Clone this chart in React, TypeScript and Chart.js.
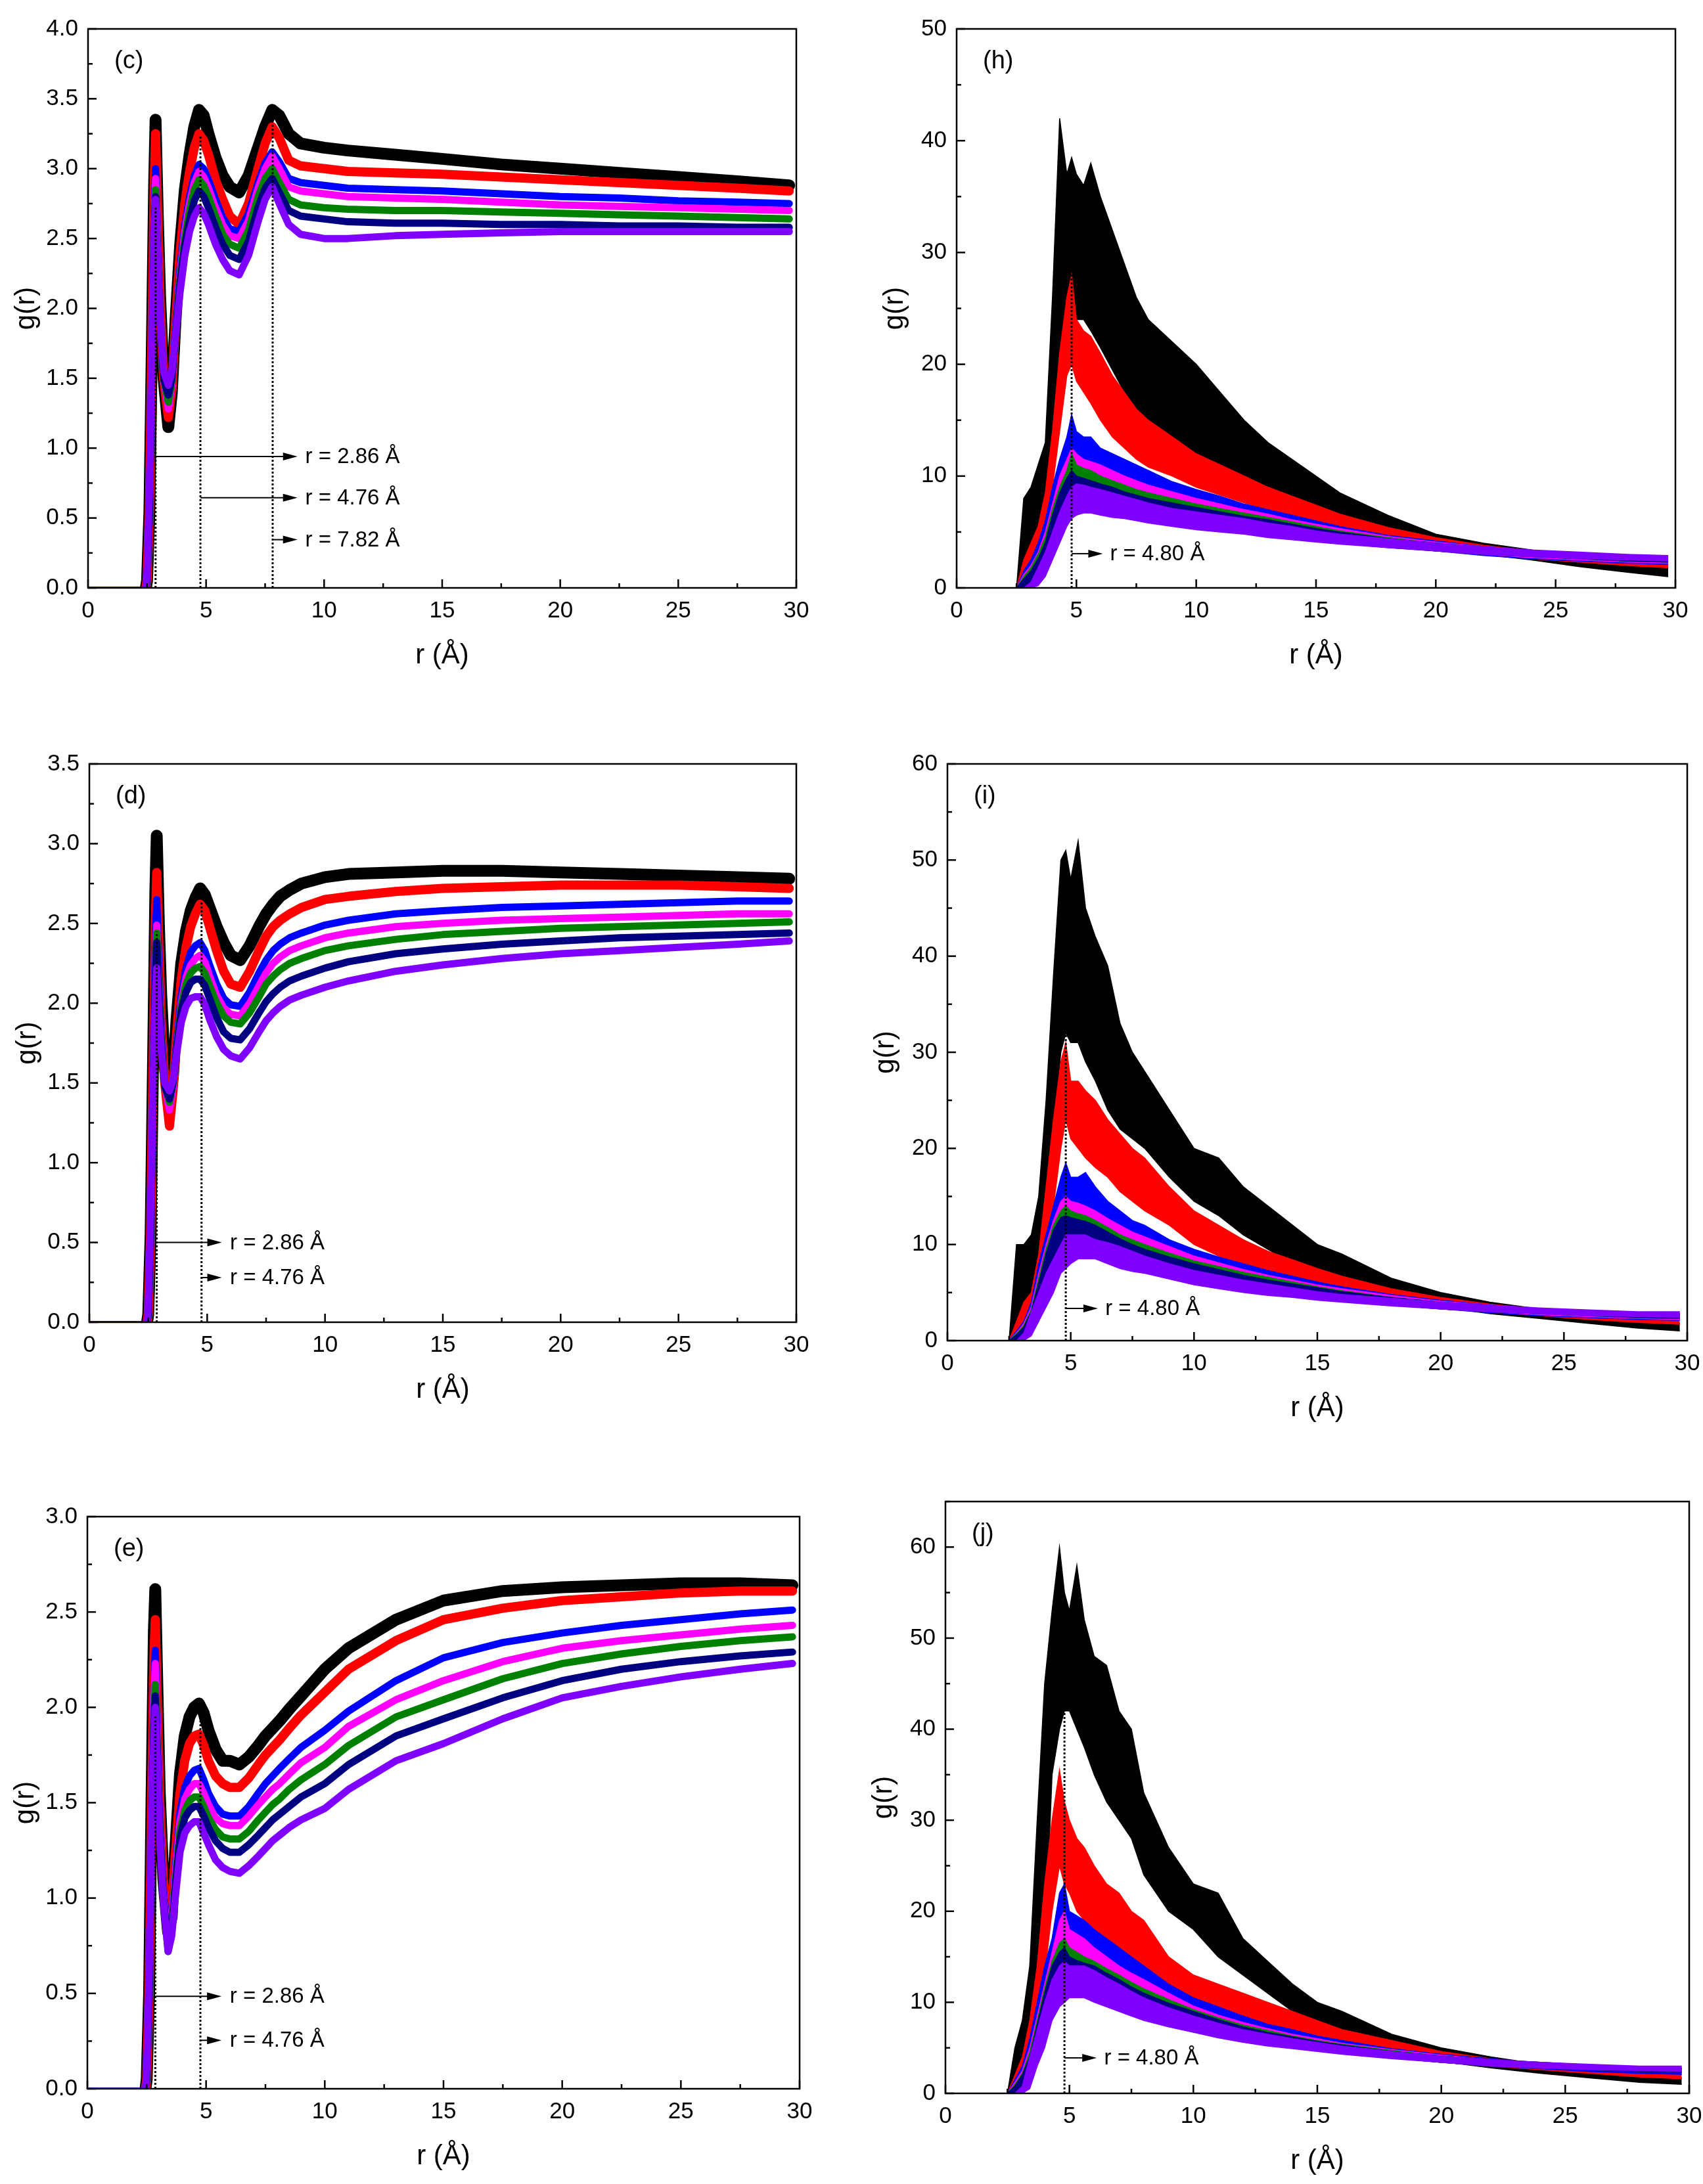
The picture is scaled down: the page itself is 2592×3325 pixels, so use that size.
import { useEffect, useRef } from "react"
import { Chart, registerables } from "chart.js"

Chart.register(...registerables)

const FONT = "Arial, 'Liberation Sans', Helvetica, sans-serif"

// series order in every panel: black, red, blue, magenta, green, navy, violet
const COLORS = ["#000000", "#ff0000", "#0000ff", "#ff00ff", "#008000", "#000080", "#8000ff"]
const LINE_W = [18, 14, 11, 11, 11, 11, 11]

// ---- left column (c), (d), (e): r grid in Å ----
const rLeft = [0, 2.45, 2.5, 2.6, 2.7, 2.8, 2.86, 2.95, 3.05, 3.2, 3.4, 3.55, 3.7, 3.9, 4.1, 4.3, 4.5, 4.7, 4.9, 5.1, 5.4, 5.7, 6.0, 6.4, 6.8, 7.2, 7.5, 7.8, 8.1, 8.5, 9.0, 10, 11, 13, 15, 17.5, 20, 22.5, 25, 27.5, 29.7]

// panel (c)
const cBlack = [0, 0, 0.05, 0.55, 1.7, 2.9, 3.35, 2.7, 2.1, 1.5, 1.15, 1.4, 1.9, 2.45, 2.85, 3.1, 3.3, 3.42, 3.38, 3.25, 3.08, 2.95, 2.87, 2.83, 2.95, 3.15, 3.3, 3.42, 3.38, 3.25, 3.18, 3.15, 3.13, 3.1, 3.07, 3.03, 3.0, 2.97, 2.94, 2.91, 2.88]
const cRed = [0, 0, 0.05, 0.55, 1.7, 2.85, 3.25, 2.65, 2.05, 1.5, 1.22, 1.42, 1.88, 2.4, 2.75, 2.98, 3.15, 3.25, 3.2, 3.1, 2.92, 2.78, 2.66, 2.6, 2.75, 3.0, 3.18, 3.3, 3.22, 3.06, 3.02, 3.0, 2.98, 2.97, 2.96, 2.94, 2.92, 2.9, 2.88, 2.86, 2.84]
const cBlue = [0, 0, 0.05, 0.55, 1.65, 2.7, 3.0, 2.5, 2.0, 1.5, 1.28, 1.45, 1.85, 2.3, 2.6, 2.8, 2.95, 3.03, 3.0, 2.92, 2.78, 2.65, 2.57, 2.55, 2.68, 2.9, 3.04, 3.12, 3.05, 2.93, 2.9, 2.88, 2.86, 2.85, 2.84, 2.82, 2.8, 2.79, 2.77, 2.76, 2.75]
const cMag = [0, 0, 0.05, 0.55, 1.6, 2.6, 2.93, 2.45, 1.98, 1.5, 1.28, 1.45, 1.83, 2.25, 2.55, 2.75, 2.9, 2.98, 2.94, 2.86, 2.72, 2.6, 2.52, 2.5, 2.63, 2.86, 3.0, 3.09, 3.0, 2.87, 2.84, 2.82, 2.8, 2.79, 2.78, 2.76, 2.74, 2.73, 2.72, 2.71, 2.7]
const cGrn = [0, 0, 0.05, 0.55, 1.6, 2.55, 2.85, 2.4, 1.95, 1.5, 1.33, 1.48, 1.82, 2.22, 2.5, 2.7, 2.85, 2.92, 2.88, 2.8, 2.66, 2.53, 2.46, 2.43, 2.56, 2.8, 2.93, 3.0, 2.9, 2.78, 2.74, 2.72, 2.71, 2.7, 2.7, 2.69, 2.68, 2.67, 2.66, 2.65, 2.64]
const cNav = [0, 0, 0.05, 0.55, 1.55, 2.5, 2.8, 2.35, 1.92, 1.5, 1.38, 1.5, 1.8, 2.18, 2.45, 2.63, 2.77, 2.84, 2.8, 2.72, 2.58, 2.46, 2.38, 2.35, 2.48, 2.72, 2.86, 2.93, 2.83, 2.7, 2.66, 2.64, 2.62, 2.61, 2.61, 2.6, 2.6, 2.59, 2.59, 2.58, 2.58]
const cPur = [0, 0, 0.1, 0.7, 1.6, 2.5, 2.78, 2.35, 1.92, 1.55, 1.45, 1.55, 1.8, 2.12, 2.38, 2.55, 2.66, 2.72, 2.68, 2.6, 2.46, 2.35, 2.27, 2.24, 2.38, 2.62, 2.78, 2.87, 2.75, 2.6, 2.53, 2.5, 2.5, 2.52, 2.53, 2.54, 2.55, 2.55, 2.55, 2.55, 2.55]

// panel (d)
const dBlack = [0, 0, 0.05, 0.55, 1.6, 2.7, 3.05, 2.5, 2.05, 1.6, 1.35, 1.55, 1.9, 2.25, 2.45, 2.58, 2.66, 2.72, 2.68, 2.6, 2.48, 2.38, 2.3, 2.27, 2.36, 2.48, 2.56, 2.62, 2.67, 2.71, 2.75, 2.79, 2.81, 2.82, 2.83, 2.83, 2.82, 2.81, 2.8, 2.79, 2.78]
const dRed = [0, 0, 0.05, 0.55, 1.55, 2.5, 2.82, 2.35, 1.9, 1.5, 1.23, 1.45, 1.8, 2.15, 2.35, 2.48, 2.56, 2.62, 2.58, 2.48, 2.33, 2.2, 2.12, 2.1, 2.2, 2.33, 2.42, 2.48, 2.52, 2.56, 2.6, 2.65, 2.67, 2.7, 2.72, 2.73, 2.74, 2.74, 2.74, 2.73, 2.72]
const dBlue = [0, 0, 0.05, 0.55, 1.5, 2.4, 2.65, 2.25, 1.85, 1.48, 1.33, 1.48, 1.75, 2.05, 2.22, 2.32, 2.36, 2.38, 2.33, 2.24, 2.12, 2.03, 1.99, 1.98, 2.07, 2.19, 2.27, 2.33, 2.37, 2.41, 2.44, 2.49, 2.52, 2.56, 2.58, 2.6, 2.61, 2.62, 2.63, 2.64, 2.64]
const dMag = [0, 0, 0.05, 0.55, 1.45, 2.25, 2.49, 2.15, 1.8, 1.48, 1.33, 1.47, 1.72, 2.0, 2.16, 2.24, 2.28, 2.3, 2.26, 2.17, 2.05, 1.97, 1.93, 1.92, 2.0, 2.11, 2.19, 2.25, 2.29, 2.33, 2.36, 2.41, 2.44, 2.48, 2.5, 2.52, 2.53, 2.54, 2.55, 2.56, 2.56]
const dGrn = [0, 0, 0.05, 0.55, 1.45, 2.2, 2.44, 2.1, 1.78, 1.48, 1.38, 1.5, 1.72, 1.98, 2.12, 2.19, 2.22, 2.23, 2.19, 2.11, 2.0, 1.92, 1.88, 1.87, 1.94, 2.04, 2.12, 2.17, 2.21, 2.25, 2.28, 2.33, 2.36, 2.4, 2.43, 2.45, 2.47, 2.48, 2.49, 2.5, 2.51]
const dNav = [0, 0, 0.05, 0.55, 1.4, 2.15, 2.38, 2.05, 1.75, 1.48, 1.4, 1.5, 1.7, 1.95, 2.07, 2.13, 2.15, 2.15, 2.11, 2.03, 1.91, 1.82, 1.78, 1.77, 1.84, 1.94, 2.01, 2.06, 2.1, 2.14, 2.17, 2.22, 2.26, 2.31, 2.34, 2.37, 2.39, 2.41, 2.42, 2.43, 2.44]
const dPur = [0, 0, 0.1, 0.7, 1.45, 2.05, 2.22, 1.95, 1.7, 1.5, 1.45, 1.52, 1.68, 1.88, 1.98, 2.03, 2.04, 2.04, 1.99, 1.9, 1.79, 1.71, 1.67, 1.65, 1.72, 1.82, 1.89, 1.94, 1.98, 2.02, 2.05, 2.1, 2.14, 2.2, 2.24, 2.28, 2.31, 2.33, 2.35, 2.37, 2.39]

// panel (e)
const eBlack = [0, 0, 0.05, 0.5, 1.5, 2.4, 2.62, 2.1, 1.55, 1.1, 0.82, 0.9, 1.25, 1.65, 1.85, 1.95, 2.0, 2.02, 1.97, 1.88, 1.78, 1.72, 1.72, 1.7, 1.74, 1.8, 1.85, 1.89, 1.93, 1.99, 2.06, 2.2, 2.31, 2.46, 2.56, 2.61, 2.63, 2.64, 2.65, 2.65, 2.64]
const eRed = [0, 0, 0.05, 0.5, 1.45, 2.25, 2.46, 2.0, 1.5, 1.1, 0.85, 0.92, 1.22, 1.55, 1.72, 1.81, 1.85, 1.86, 1.8, 1.72, 1.64, 1.6, 1.58, 1.58, 1.63, 1.7, 1.75, 1.79, 1.83, 1.89, 1.96, 2.08, 2.2, 2.35, 2.46, 2.52, 2.56, 2.58, 2.6, 2.61, 2.61]
const eBlue = [0, 0, 0.05, 0.5, 1.4, 2.1, 2.3, 1.9, 1.45, 1.05, 0.8, 0.88, 1.15, 1.45, 1.58, 1.64, 1.67, 1.68, 1.62, 1.55, 1.48, 1.44, 1.43, 1.43, 1.48, 1.55, 1.6, 1.64, 1.68, 1.73, 1.79, 1.88, 1.98, 2.14, 2.26, 2.34, 2.39, 2.43, 2.46, 2.49, 2.51]
const eMag = [0, 0, 0.05, 0.5, 1.35, 2.05, 2.23, 1.85, 1.42, 1.03, 0.78, 0.86, 1.12, 1.4, 1.52, 1.57, 1.6, 1.6, 1.55, 1.49, 1.42, 1.39, 1.38, 1.38, 1.43, 1.49, 1.53, 1.57, 1.6, 1.65, 1.71, 1.79, 1.9, 2.04, 2.14, 2.24, 2.31, 2.35, 2.38, 2.41, 2.43]
const eGrn = [0, 0, 0.05, 0.5, 1.3, 1.95, 2.12, 1.78, 1.38, 1.0, 0.72, 0.82, 1.08, 1.35, 1.46, 1.51, 1.53, 1.53, 1.48, 1.42, 1.36, 1.32, 1.31, 1.31, 1.35, 1.41, 1.45, 1.49, 1.52, 1.57, 1.62, 1.7, 1.8, 1.95, 2.04, 2.15, 2.23, 2.28, 2.32, 2.35, 2.37]
const eNav = [0, 0, 0.05, 0.5, 1.28, 1.9, 2.06, 1.75, 1.35, 1.0, 0.75, 0.82, 1.05, 1.31, 1.42, 1.46, 1.48, 1.48, 1.43, 1.37, 1.3, 1.26, 1.24, 1.24, 1.28, 1.33, 1.37, 1.41, 1.44, 1.48, 1.53, 1.6, 1.7, 1.85, 1.94, 2.05, 2.14, 2.2, 2.24, 2.27, 2.29]
const ePur = [0, 0, 0.1, 0.6, 1.3, 1.85, 2.0, 1.7, 1.3, 0.98, 0.72, 0.8, 1.0, 1.24, 1.34, 1.38, 1.4, 1.4, 1.34, 1.28, 1.2, 1.16, 1.14, 1.13, 1.17, 1.22, 1.26, 1.3, 1.33, 1.37, 1.41, 1.47, 1.57, 1.72, 1.81, 1.94, 2.05, 2.11, 2.16, 2.2, 2.23]

// ---- right column (h), (i), (j): noisy curves as low / high envelopes ----
const rRight = [0, 2.5, 2.8, 3.1, 3.4, 3.7, 4.0, 4.3, 4.6, 4.8, 5.0, 5.3, 5.6, 6.0, 6.5, 7.0, 7.5, 8.0, 9, 10, 11, 12, 13, 14, 15, 16, 18, 20, 22, 24, 26, 28, 29.7]

// panel (h)
const hBlackLo = [0, 0, 0.5, 1.5, 3, 5, 9, 18, 22, 24, 24, 24, 23, 21.5, 19.5, 17.5, 16, 15, 13.5, 12, 10.5, 9.5, 8.5, 7.5, 6.5, 5.8, 4.6, 3.5, 3.0, 2.5, 1.9, 1.4, 1.0]
const hBlackHi = [0, 0, 8, 9, 11, 13, 26, 42, 37, 38.5, 37, 36, 38, 35, 32, 29, 26, 24, 22, 20, 17.5, 15, 13, 11.5, 10, 8.5, 6.5, 4.8, 4.0, 3.4, 2.8, 2.3, 2.0]
const hRedLo = [0, 0, 0.3, 1, 2.5, 5, 9, 14, 19, 20, 18.5, 17.5, 16.5, 15, 13.5, 12.5, 11.5, 10.8, 10, 9, 8.3, 7.6, 7, 6.2, 5.6, 5.0, 4.1, 3.5, 3.0, 2.6, 2.3, 2.0, 1.8]
const hRedHi = [0, 0, 2.5, 4, 5.5, 8.5, 14, 21, 26, 28, 24, 23, 22.5, 21, 19, 17.5, 16, 15, 13.5, 12, 11, 10, 9, 8.2, 7.4, 6.6, 5.4, 4.5, 3.8, 3.3, 2.9, 2.5, 2.3]
const hBlueLo = [0, 0, 0.2, 0.5, 1.2, 2.8, 5, 7.5, 9.5, 10, 10, 9.8, 9.5, 9, 8.5, 8, 7.7, 7.5, 7, 6.5, 6.2, 5.8, 5.3, 5.0, 4.6, 4.3, 3.7, 3.3, 2.9, 2.6, 2.4, 2.2, 2.1]
const hBlueHi = [0, 0, 1.5, 2.5, 4, 6, 9, 11.5, 13.5, 15.5, 14, 13.5, 13.5, 12.5, 12, 11.5, 11, 10.5, 9.5, 8.8, 8.2, 7.5, 7, 6.5, 6, 5.5, 4.7, 4.2, 3.7, 3.3, 3.0, 2.8, 2.6]
const hMagLo = [0, 0, 0.1, 0.4, 1, 2.3, 4.2, 6.5, 8, 8.5, 8.5, 8.4, 8.2, 7.8, 7.5, 7.2, 7, 6.8, 6.4, 6, 5.7, 5.4, 5.1, 4.8, 4.5, 4.2, 3.7, 3.3, 3.0, 2.7, 2.5, 2.3, 2.2]
const hMagHi = [0, 0, 1.2, 2, 3.2, 5, 7.5, 10, 11.5, 12.5, 12, 11.5, 11.3, 11, 10.5, 10, 9.6, 9.2, 8.6, 8, 7.5, 7, 6.6, 6.1, 5.7, 5.3, 4.6, 4.1, 3.7, 3.3, 3.0, 2.8, 2.7]
const hGrnLo = [0, 0, 0.1, 0.4, 1, 2, 3.8, 6, 7.3, 7.5, 7.5, 7.4, 7.2, 7, 6.8, 6.6, 6.4, 6.2, 5.9, 5.6, 5.3, 5.1, 4.8, 4.6, 4.3, 4.1, 3.7, 3.3, 3.0, 2.8, 2.6, 2.4, 2.3]
const hGrnHi = [0, 0, 1, 1.8, 3, 4.5, 7, 9, 10.5, 12, 11, 10.7, 10.5, 10, 9.6, 9.2, 8.8, 8.5, 8, 7.5, 7.1, 6.7, 6.3, 5.9, 5.5, 5.1, 4.5, 4.0, 3.7, 3.3, 3.1, 2.9, 2.8]
const hNavLo = [0, 0, 0.1, 0.3, 0.8, 1.8, 3.5, 5.5, 6.8, 7, 7, 7, 6.9, 6.7, 6.5, 6.3, 6.1, 6, 5.7, 5.4, 5.2, 5.0, 4.7, 4.5, 4.2, 4.0, 3.6, 3.3, 3.0, 2.8, 2.6, 2.4, 2.3]
const hNavHi = [0, 0, 0.8, 1.5, 2.6, 4, 6.5, 8.5, 9.8, 10.5, 10, 9.8, 9.6, 9.3, 9, 8.6, 8.3, 8, 7.6, 7.2, 6.8, 6.4, 6.1, 5.7, 5.3, 5.0, 4.4, 4.0, 3.6, 3.3, 3.1, 2.9, 2.8]
const hPurLo = [0, 0, 0, 0, 0.2, 1, 2.5, 4, 5.5, 6.2, 6.5, 6.7, 6.7, 6.5, 6.3, 6.2, 6.0, 5.8, 5.5, 5.2, 5.0, 4.8, 4.5, 4.3, 4.1, 3.9, 3.6, 3.3, 3.0, 2.8, 2.6, 2.5, 2.4]
const hPurHi = [0, 0, 0, 0.5, 1.8, 3.2, 5, 6.8, 8.2, 9, 9.3, 9.2, 9, 8.8, 8.5, 8.2, 7.9, 7.6, 7.1, 6.8, 6.5, 6.2, 5.8, 5.5, 5.1, 4.8, 4.4, 4.0, 3.7, 3.4, 3.2, 3.0, 2.9]

// panel (i)
const iBlackLo = [0, 0, 0.5, 1, 3, 7, 12, 22, 30, 32, 31, 31, 29, 27, 24, 22, 21, 20, 17, 14.5, 13, 11, 9.5, 8, 7, 6, 4.6, 3.5, 2.8, 2.3, 1.8, 1.3, 1.0]
const iBlackHi = [0, 0, 10, 10, 11, 15, 25, 38, 50, 51, 48, 52, 45, 42, 39, 33, 30, 28, 24, 20, 19, 16, 14, 12, 10, 9, 6.5, 5, 4, 3.3, 2.7, 2.1, 1.8]
const iRedLo = [0, 0, 0.2, 1, 2, 4, 8, 14, 20, 23, 21, 20, 19, 18, 17, 15.5, 14.5, 13.5, 12, 10, 8.8, 7.8, 7.1, 6.3, 5.7, 5.1, 4.1, 3.5, 3, 2.6, 2.2, 1.9, 1.7]
const iRedHi = [0, 0, 2, 4, 5, 9, 16, 23, 29, 31, 27, 27, 26, 25, 23, 21.5, 20, 19, 16, 13.5, 12, 10.5, 9.3, 8.4, 7.5, 6.7, 5.4, 4.5, 3.8, 3.3, 2.8, 2.4, 2.2]
const iBlueLo = [0, 0, 0.1, 0.5, 1, 3, 6, 9, 12, 12, 12, 12, 12, 11.5, 11, 10, 9.5, 9, 8, 7.3, 6.7, 6.2, 5.7, 5.2, 4.8, 4.4, 3.8, 3.3, 2.9, 2.6, 2.4, 2.2, 2.1]
const iBlueHi = [0, 0, 1, 2, 4, 8, 11, 14, 17, 18.5, 17, 17, 17.5, 16, 14.5, 13.5, 12.5, 12, 10.5, 9.5, 8.7, 8, 7.3, 6.7, 6.1, 5.6, 4.8, 4.2, 3.7, 3.3, 3, 2.8, 2.6]
const iMagLo = [0, 0, 0.1, 0.4, 0.9, 2.5, 5, 8, 10, 11, 11, 10.8, 10.5, 10, 9.5, 9, 8.6, 8.2, 7.5, 6.8, 6.3, 5.8, 5.4, 5, 4.6, 4.3, 3.7, 3.3, 3, 2.7, 2.5, 2.3, 2.2]
const iMagHi = [0, 0, 0.8, 1.8, 3.5, 7, 10, 12.5, 14.5, 15, 14.5, 14.3, 14, 13.5, 12.7, 12, 11.3, 10.8, 9.8, 8.8, 8.1, 7.4, 6.8, 6.3, 5.8, 5.4, 4.7, 4.1, 3.7, 3.3, 3, 2.8, 2.7]
const iGrnLo = [0, 0, 0.1, 0.3, 0.8, 2.2, 4.5, 7.5, 9.5, 10, 10, 9.9, 9.8, 9.5, 9, 8.5, 8.1, 7.8, 7.1, 6.5, 6, 5.6, 5.2, 4.9, 4.6, 4.3, 3.7, 3.3, 3, 2.8, 2.6, 2.4, 2.3]
const iGrnHi = [0, 0, 0.7, 1.6, 3.2, 6.5, 9.5, 12, 13.5, 14, 13.5, 13.2, 13, 12.5, 11.8, 11, 10.5, 10, 9.1, 8.3, 7.7, 7.1, 6.6, 6.1, 5.6, 5.2, 4.5, 4, 3.7, 3.3, 3.1, 2.9, 2.8]
const iNavLo = [0, 0, 0.1, 0.3, 0.7, 2, 4.2, 7, 9, 9.5, 9.5, 9.4, 9.3, 9, 8.6, 8.2, 7.8, 7.5, 6.8, 6.2, 5.8, 5.4, 5, 4.7, 4.4, 4.2, 3.7, 3.3, 3, 2.8, 2.6, 2.4, 2.3]
const iNavHi = [0, 0, 0.6, 1.4, 3, 6, 9, 11.5, 12.8, 13, 12.8, 12.6, 12.4, 12, 11.3, 10.6, 10, 9.5, 8.7, 8, 7.4, 6.8, 6.3, 5.9, 5.5, 5.1, 4.5, 4, 3.6, 3.3, 3.1, 2.9, 2.8]
const iPurLo = [0, 0, 0, 0, 0.5, 2, 3.5, 5, 7, 7.5, 8, 8.5, 8.5, 8.5, 8, 7.5, 7.2, 7, 6.4, 5.8, 5.4, 5, 4.7, 4.5, 4.2, 4, 3.6, 3.3, 3, 2.8, 2.6, 2.5, 2.4]
const iPurHi = [0, 0, 0, 0.8, 3, 5, 7, 8.5, 10, 11, 11, 11, 11, 10.5, 10.2, 9.8, 9.3, 8.8, 8, 7.3, 6.8, 6.3, 5.9, 5.5, 5.1, 4.8, 4.4, 4, 3.7, 3.4, 3.2, 3, 3]

// panel (j)
const jBlackLo = [0, 0, 0, 1, 3, 8, 15, 35, 40, 42, 42, 40, 38, 35, 32, 30, 28, 24, 20, 18, 15, 13, 11, 9, 7.5, 6.5, 5, 3.5, 2.8, 2.2, 1.7, 1.2, 1.0]
const jBlackHi = [0, 0, 5, 8, 14, 30, 45, 53, 60, 55, 53, 58, 52, 48, 47, 42, 40, 33, 27, 23, 22, 17, 14.5, 12, 10, 9, 6.5, 5, 4, 3.2, 2.6, 2, 1.7]
const jRedLo = [0, 0, 0.2, 1, 3, 7, 13, 20, 25, 23, 22, 20, 19, 18, 16, 15, 14, 13, 11, 10, 9, 8, 7.5, 6.8, 6, 5.5, 4.5, 3.6, 3, 2.6, 2.2, 1.8, 1.6]
const jRedHi = [0, 0, 2, 4, 8, 14, 23, 30, 35.5, 32, 30, 28, 27, 25, 23, 22, 20, 19, 15, 13, 12, 11, 10, 9, 8, 7, 5.8, 4.6, 3.8, 3.3, 2.8, 2.4, 2.1]
const jBlueLo = [0, 0, 0.1, 0.5, 2, 5, 8, 12, 15, 15, 15, 14.5, 14, 13, 12.3, 11.5, 10.7, 10, 9, 8, 7.3, 6.6, 6, 5.5, 5, 4.6, 3.9, 3.4, 3, 2.7, 2.4, 2.2, 2.1]
const jBlueHi = [0, 0, 1.5, 3, 6, 10, 14, 17, 22, 23, 20, 19.5, 19, 18, 17, 16, 15, 14, 12, 10.5, 9.5, 8.5, 7.6, 7, 6.3, 5.8, 4.9, 4.3, 3.8, 3.3, 3, 2.8, 2.7]
const jMagLo = [0, 0, 0.1, 0.4, 1.5, 4, 7, 10.5, 13, 13, 13, 12.7, 12.4, 12, 11.2, 10.5, 9.9, 9.3, 8.3, 7.5, 6.8, 6.3, 5.8, 5.3, 4.9, 4.5, 3.9, 3.4, 3, 2.8, 2.6, 2.4, 2.3]
const jMagHi = [0, 0, 1.2, 2.5, 5, 8.5, 12, 15.5, 19, 20, 18, 17.5, 17, 16, 15, 14, 13.2, 12.5, 11, 9.6, 8.6, 7.8, 7.1, 6.5, 6, 5.5, 4.8, 4.2, 3.7, 3.4, 3.1, 2.9, 2.8]
const jGrnLo = [0, 0, 0.1, 0.3, 1.2, 3.5, 6.5, 9.5, 11.5, 12, 12, 11.8, 11.5, 11, 10.3, 9.7, 9.2, 8.8, 7.9, 7.2, 6.5, 6, 5.6, 5.2, 4.8, 4.5, 3.9, 3.4, 3, 2.8, 2.6, 2.4, 2.3]
const jGrnHi = [0, 0, 1, 2.2, 4.5, 8, 11.5, 14.5, 16.5, 17, 16, 15.5, 15, 14.5, 13.7, 13, 12.2, 11.5, 10.3, 9.2, 8.3, 7.5, 6.9, 6.3, 5.8, 5.4, 4.7, 4.1, 3.7, 3.4, 3.1, 2.9, 2.8]
const jNavLo = [0, 0, 0.1, 0.3, 1, 3.2, 6, 9, 11, 11.5, 11.5, 11.2, 11, 10.5, 9.9, 9.3, 8.9, 8.5, 7.7, 7, 6.4, 5.9, 5.5, 5.1, 4.8, 4.5, 3.9, 3.4, 3, 2.8, 2.6, 2.4, 2.3]
const jNavHi = [0, 0, 0.8, 2, 4, 7.5, 11, 14, 15.5, 16, 15, 14.6, 14.3, 14, 13.2, 12.5, 11.7, 11, 9.9, 9, 8.1, 7.3, 6.7, 6.2, 5.7, 5.3, 4.6, 4.1, 3.7, 3.4, 3.1, 2.9, 2.8]
const jPurLo = [0, 0, 0, 0, 0.5, 3, 5, 8, 9.5, 10, 10.5, 10.5, 10.5, 10, 9.5, 9, 8.5, 8, 7.3, 6.7, 6.1, 5.6, 5.2, 4.9, 4.6, 4.3, 3.8, 3.4, 3, 2.8, 2.6, 2.5, 2.4]
const jPurHi = [0, 0, 0, 0.8, 4, 7, 10, 12.5, 14, 14.5, 14, 14, 14, 13.5, 12.7, 12, 11.2, 10.5, 9.4, 8.5, 7.7, 7, 6.5, 6, 5.6, 5.2, 4.6, 4.1, 3.7, 3.4, 3.2, 3, 3]

// marked peak positions (Å), heights of the dotted guides and arrow levels (g(r))
const cMarks = [2.86, 4.76, 7.82]
const cMarkTops = [2.72, 3.24, 3.33]
const cArrowY = [0.94, 0.645, 0.345]
const dMarks = [2.86, 4.76]
const dMarkTops = [2.45, 2.64]
const dArrowY = [0.5, 0.28]
const eMarks = [2.86, 4.76]
const eMarkTops = [1.96, 1.93]
const eArrowY = [0.485, 0.254]
const hMarks = [4.8]
const hMarkTops = [28.6]
const hArrowY = [3.06]
const iMarks = [4.8]
const iMarkTops = [34]
const iArrowY = [3.35]
const jMarks = [4.8]
const jMarkTops = [43.5]
const jArrowY = [3.9]

// layout around each plot area (px)
const AX_W = 130
const AX_H = 130
const PAD_T = 30
const PAD_R = 40

type PanelCfg = {
  tag: string
  box: number[] // plot area: left, top, right, bottom on the page
  yMax: number
  yStep: number
  digits: number
  r: number[]
  lines?: number[][]
  bands?: number[][][]
  marks: number[]
  markTops: number[]
  arrowY: number[]
  arrowEnd: number
  labelX: number
}

const PANELS: PanelCfg[] = [
  { tag: "(c)", box: [134, 38, 1212, 895], yMax: 4, yStep: 0.5, digits: 1, r: rLeft,
    lines: [cBlack, cRed, cBlue, cMag, cGrn, cNav, cPur],
    marks: cMarks, markTops: cMarkTops, arrowY: cArrowY, arrowEnd: 8.87, labelX: 9.2 },
  { tag: "(h)", box: [1456, 38, 2550, 895], yMax: 50, yStep: 10, digits: 0, r: rRight,
    bands: [[hBlackLo, hBlackHi], [hRedLo, hRedHi], [hBlueLo, hBlueHi], [hMagLo, hMagHi], [hGrnLo, hGrnHi], [hNavLo, hNavHi], [hPurLo, hPurHi]],
    marks: hMarks, markTops: hMarkTops, arrowY: hArrowY, arrowEnd: 6.1, labelX: 6.4 },
  { tag: "(d)", box: [136, 1157, 1212, 2013], yMax: 3.5, yStep: 0.5, digits: 1, r: rLeft,
    lines: [dBlack, dRed, dBlue, dMag, dGrn, dNav, dPur],
    marks: dMarks, markTops: dMarkTops, arrowY: dArrowY, arrowEnd: 5.62, labelX: 5.97 },
  { tag: "(i)", box: [1442, 1157, 2568, 2041], yMax: 60, yStep: 10, digits: 0, r: rRight,
    bands: [[iBlackLo, iBlackHi], [iRedLo, iRedHi], [iBlueLo, iBlueHi], [iMagLo, iMagHi], [iGrnLo, iGrnHi], [iNavLo, iNavHi], [iPurLo, iPurHi]],
    marks: iMarks, markTops: iMarkTops, arrowY: iArrowY, arrowEnd: 6.1, labelX: 6.4 },
  { tag: "(e)", box: [133, 2303, 1217, 3180], yMax: 3, yStep: 0.5, digits: 1, r: rLeft,
    lines: [eBlack, eRed, eBlue, eMag, eGrn, eNav, ePur],
    marks: eMarks, markTops: eMarkTops, arrowY: eArrowY, arrowEnd: 5.65, labelX: 6.0 },
  { tag: "(j)", box: [1439, 2280, 2571, 3187], yMax: 65, yStep: 10, digits: 0, r: rRight,
    bands: [[jBlackLo, jBlackHi], [jRedLo, jRedHi], [jBlueLo, jBlueHi], [jMagLo, jMagHi], [jGrnLo, jGrnHi], [jNavLo, jNavHi], [jPurLo, jPurHi]],
    marks: jMarks, markTops: jMarkTops, arrowY: jArrowY, arrowEnd: 6.1, labelX: 6.4 },
]

// inward ticks, frame, dotted guides, arrows and panel tag
const decor = {
  id: "decor",
  afterDatasetsDraw(chart: any, _args: any, opts: any) {
    const { ctx, chartArea: a } = chart
    const xs = chart.scales.x
    const ys = chart.scales.y
    const cfg: PanelCfg = opts.cfg
    ctx.save()
    ctx.strokeStyle = "#000"
    ctx.fillStyle = "#000"

    // dotted guides
    ctx.lineWidth = 3
    ctx.setLineDash([3, 3])
    cfg.marks.forEach((m, i) => {
      const px = xs.getPixelForValue(m)
      ctx.beginPath()
      ctx.moveTo(px, ys.getPixelForValue(0))
      ctx.lineTo(px, ys.getPixelForValue(cfg.markTops[i]))
      ctx.stroke()
    })
    ctx.setLineDash([])

    // arrows with labels
    ctx.font = `33px ${FONT}`
    ctx.textBaseline = "middle"
    ctx.textAlign = "left"
    cfg.arrowY.forEach((v, i) => {
      const x0 = xs.getPixelForValue(cfg.marks[i])
      const x1 = xs.getPixelForValue(cfg.arrowEnd)
      const py = ys.getPixelForValue(v)
      ctx.lineWidth = 2
      ctx.beginPath()
      ctx.moveTo(x0, py)
      ctx.lineTo(x1 - 16, py)
      ctx.stroke()
      ctx.beginPath()
      ctx.moveTo(x1, py)
      ctx.lineTo(x1 - 22, py - 6)
      ctx.lineTo(x1 - 22, py + 6)
      ctx.closePath()
      ctx.fill()
      ctx.fillText(`r = ${cfg.marks[i].toFixed(2)} Å`, xs.getPixelForValue(cfg.labelX), py + 1)
    })

    // inward ticks
    ctx.lineWidth = 2.5
    for (let k = 0; k * 2.5 <= 30 + 1e-9; k++) {
      const px = xs.getPixelForValue(k * 2.5)
      const len = k % 2 === 0 ? 13 : 7
      ctx.beginPath()
      ctx.moveTo(px, a.bottom)
      ctx.lineTo(px, a.bottom - len)
      ctx.stroke()
    }
    const half = cfg.yStep / 2
    for (let k = 0; k * half <= cfg.yMax + 1e-9; k++) {
      const py = ys.getPixelForValue(k * half)
      const len = k % 2 === 0 ? 13 : 7
      ctx.beginPath()
      ctx.moveTo(a.left, py)
      ctx.lineTo(a.left + len, py)
      ctx.stroke()
    }

    // frame
    ctx.strokeRect(a.left, a.top, a.right - a.left, a.bottom - a.top)

    // panel tag
    ctx.font = `38px ${FONT}`
    ctx.textBaseline = "middle"
    ctx.fillText(cfg.tag, a.left + 40, a.top + 50)
    ctx.restore()
  },
}

function PanelChart({ cfg }: { cfg: PanelCfg }) {
  const canvasRef = useRef<HTMLCanvasElement>(null)
  const [l, t, r, b] = cfg.box
  const w = r - l + AX_W + PAD_R
  const h = b - t + PAD_T + AX_H

  useEffect(() => {
    if (!canvasRef.current) return
    const datasets: any[] = []
    if (cfg.lines) {
      cfg.lines.forEach((vals, i) => {
        datasets.push({
          data: cfg.r.map((x, k) => ({ x, y: vals[k] })),
          borderColor: COLORS[i],
          borderWidth: LINE_W[i],
          borderJoinStyle: "round",
          borderCapStyle: "round",
          pointRadius: 0,
          fill: false,
          order: 6 - i,
          // the flat g(r) = 0 stretch before the first rise is a thin line
          segment: {
            borderWidth: (s: any) => (s.p0.parsed.y === 0 && s.p1.parsed.y === 0 ? 3 : undefined),
          },
        })
      })
    }
    if (cfg.bands) {
      cfg.bands.forEach(([lo, hi], i) => {
        const base = datasets.length
        datasets.push({
          data: cfg.r.map((x, k) => ({ x, y: lo[k] })),
          borderColor: COLORS[i],
          borderWidth: 1.5,
          pointRadius: 0,
          fill: false,
          order: 6 - i,
        })
        datasets.push({
          data: cfg.r.map((x, k) => ({ x, y: hi[k] })),
          borderColor: COLORS[i],
          backgroundColor: COLORS[i],
          borderWidth: 1.5,
          pointRadius: 0,
          fill: base,
          order: 6 - i,
        })
      })
    }

    const tickFont = { size: 35, family: FONT }
    const titleFont = { size: 42, family: FONT }
    const chart = new Chart(canvasRef.current, {
      type: "line",
      data: { datasets },
      plugins: [decor],
      options: {
        responsive: false,
        animation: false,
        devicePixelRatio: 1,
        layout: { padding: { top: PAD_T, right: PAD_R, left: 0, bottom: 0 } },
        plugins: {
          legend: { display: false },
          tooltip: { enabled: false },
          decor: { cfg },
        } as any,
        elements: { line: { tension: 0 }, point: { radius: 0 } },
        scales: {
          x: {
            type: "linear",
            min: 0,
            max: 30,
            afterFit: (s: any) => { s.height = AX_H },
            grid: { display: false, drawTicks: false },
            border: { display: false },
            ticks: { stepSize: 5, padding: 14, color: "#000", font: tickFont, maxRotation: 0, autoSkip: false },
            title: { display: true, text: "r (Å)", color: "#000", font: titleFont, padding: { top: 0, bottom: 1 } },
          },
          y: {
            type: "linear",
            min: 0,
            max: cfg.yMax,
            afterFit: (s: any) => { s.width = AX_W },
            grid: { display: false, drawTicks: false },
            border: { display: false },
            ticks: {
              stepSize: cfg.yStep,
              includeBounds: false,
              padding: 15,
              color: "#000",
              font: tickFont,
              autoSkip: false,
              callback: (v: any) => Number(v).toFixed(cfg.digits),
            },
            title: { display: true, text: "g(r)", color: "#000", font: titleFont, padding: { top: 11, bottom: 0 } },
          },
        },
      } as any,
    })
    return () => chart.destroy()
  }, [cfg])

  return (
    <canvas
      ref={canvasRef}
      width={w}
      height={h}
      style={{ position: "absolute", left: l - AX_W, top: t - PAD_T, width: w, height: h }}
    />
  )
}

export default function App() {
  return (
    <div style={{ position: "absolute", left: 0, top: 0, width: 2592, height: 3325, background: "#fff", overflow: "hidden" }}>
      {PANELS.map((p) => (
        <PanelChart key={p.tag} cfg={p} />
      ))}
    </div>
  )
}
